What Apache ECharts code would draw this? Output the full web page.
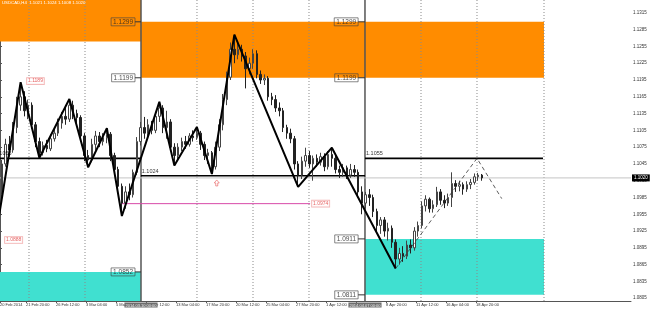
<!DOCTYPE html>
<html><head><meta charset="utf-8">
<script src="https://cdn.jsdelivr.net/npm/echarts@6/dist/echarts.min.js"></script>
<style>html,body{margin:0;padding:0;background:#fff}#c{width:650px;height:310px}</style>
</head><body><div id="c"></div>
<script>
// ---------- DATA ----------
const titleText = 'USDCAD,H4  1.1021 1.1024 1.1008 1.1020';
// one candle per slot (slot = 2 H4 bars)
const candleOpen = [1.0990,1.1045,1.1080,1.1070,1.1110,1.1150,1.1165,1.1140,1.1150,1.1115,1.1085,1.1065,1.1078,1.1072,1.1090,1.1100,1.1118,1.1130,1.1125,1.1150,1.1135,1.1128,1.1095,1.1060,1.1052,1.1080,1.1095,1.1085,1.1092,1.1098,1.1060,1.1035,1.1005,1.0975,1.0995,1.0990,1.1030,1.1085,1.1110,1.1100,1.1115,1.1105,1.1130,1.1145,1.1110,1.1120,1.1075,1.1060,1.1075,1.1085,1.1080,1.1095,1.1092,1.1100,1.1080,1.1060,1.1065,1.1040,1.1075,1.1115,1.1160,1.1200,1.1250,1.1240,1.1250,1.1238,1.1215,1.1225,1.1242,1.1205,1.1195,1.1198,1.1165,1.1160,1.1145,1.1140,1.1110,1.1100,1.1090,1.1045,1.1025,1.1050,1.1060,1.1045,1.1055,1.1048,1.1058,1.1040,1.1062,1.1055,1.1035,1.1030,1.1038,1.1025,1.1035,1.1030,1.0995,1.0975,1.0990,1.0985,1.0960,1.0935,1.0945,1.0925,1.0930,1.0905,1.0875,1.0885,1.0880,1.0900,1.0895,1.0925,1.0935,1.0970,1.0982,1.0965,1.0972,1.0995,1.0980,1.0975,1.0985,1.1010,1.1005,1.1008,1.1000,1.1008,1.1012,1.1022,1.1025];
const candleClose = [1.1045,1.1080,1.1070,1.1110,1.1150,1.1165,1.1140,1.1150,1.1115,1.1085,1.1065,1.1078,1.1072,1.1090,1.1100,1.1118,1.1130,1.1125,1.1150,1.1135,1.1128,1.1095,1.1060,1.1052,1.1080,1.1095,1.1085,1.1092,1.1098,1.1060,1.1035,1.1005,1.0975,1.0995,1.0990,1.1030,1.1085,1.1110,1.1100,1.1115,1.1105,1.1130,1.1145,1.1110,1.1120,1.1075,1.1060,1.1075,1.1085,1.1080,1.1095,1.1092,1.1100,1.1080,1.1060,1.1065,1.1040,1.1075,1.1115,1.1160,1.1200,1.1250,1.1240,1.1250,1.1238,1.1215,1.1225,1.1242,1.1205,1.1195,1.1198,1.1165,1.1160,1.1145,1.1140,1.1110,1.1100,1.1090,1.1045,1.1025,1.1050,1.1060,1.1045,1.1055,1.1048,1.1058,1.1040,1.1062,1.1055,1.1035,1.1030,1.1038,1.1025,1.1035,1.1030,1.0995,1.0975,1.0990,1.0985,1.0960,1.0935,1.0945,1.0925,1.0930,1.0905,1.0875,1.0885,1.0880,1.0900,1.0895,1.0925,1.0935,1.0970,1.0982,1.0965,1.0972,1.0995,1.0980,1.0975,1.0985,1.1010,1.1005,1.1008,1.1000,1.1008,1.1012,1.1022,1.1025,1.1020];
const candleLow = [1.0980,1.1040,1.1058,1.1065,1.1100,1.1140,1.1130,1.1125,1.1108,1.1075,1.1056,1.1060,1.1066,1.1068,1.1085,1.1095,1.1108,1.1115,1.1120,1.1125,1.1115,1.1088,1.1050,1.1039,1.1048,1.1070,1.1075,1.1078,1.1082,1.1050,1.1025,1.0995,1.0952,1.0965,1.0980,1.0985,1.1025,1.1078,1.1090,1.1095,1.1098,1.1100,1.1120,1.1100,1.1090,1.1068,1.1042,1.1052,1.1068,1.1072,1.1076,1.1085,1.1088,1.1070,1.1052,1.1045,1.1027,1.1035,1.1068,1.1105,1.1150,1.1195,1.1225,1.1232,1.1228,1.1180,1.1205,1.1215,1.1198,1.1188,1.1186,1.1158,1.1150,1.1138,1.1130,1.1102,1.1090,1.1082,1.1035,1.1004,1.1018,1.1040,1.1038,1.1015,1.1040,1.1042,1.1032,1.1035,1.1040,1.1028,1.1020,1.1022,1.1018,1.1020,1.1022,1.0985,1.0955,1.0965,1.0970,1.0950,1.0925,1.0920,1.0915,1.0908,1.0895,1.0858,1.0865,1.0870,1.0875,1.0885,1.0890,1.0915,1.0930,1.0960,1.0958,1.0958,1.0968,1.0972,1.0966,1.0970,1.0968,1.0995,1.0996,1.0990,1.0995,1.1000,1.1008,1.1015,1.1015];
const candleHigh = [1.1052,1.1090,1.1095,1.1120,1.1165,1.1191,1.1175,1.1160,1.1155,1.1120,1.1092,1.1085,1.1088,1.1098,1.1110,1.1126,1.1138,1.1145,1.1161,1.1158,1.1142,1.1132,1.1100,1.1070,1.1090,1.1104,1.1102,1.1100,1.1109,1.1102,1.1065,1.1040,1.1010,1.1005,1.1010,1.1035,1.1093,1.1120,1.1129,1.1125,1.1122,1.1138,1.1156,1.1150,1.1140,1.1125,1.1082,1.1082,1.1092,1.1095,1.1100,1.1105,1.1111,1.1104,1.1085,1.1072,1.1068,1.1085,1.1125,1.1170,1.1210,1.1262,1.1276,1.1262,1.1258,1.1245,1.1235,1.1250,1.1248,1.1212,1.1205,1.1202,1.1172,1.1168,1.1155,1.1145,1.1115,1.1108,1.1095,1.1050,1.1058,1.1074,1.1068,1.1060,1.1062,1.1065,1.1064,1.1068,1.1074,1.1060,1.1042,1.1045,1.1042,1.1045,1.1043,1.1035,1.1005,1.0995,1.1000,1.0990,1.0965,1.0950,1.0950,1.0940,1.0935,1.0910,1.0895,1.0898,1.0908,1.0910,1.0932,1.0942,1.0978,1.0989,1.0985,1.0980,1.1004,1.1000,1.0989,1.0992,1.1030,1.1016,1.1015,1.1012,1.1014,1.1018,1.1028,1.1029,1.1027];
// zigzag swing points (x in slots)
const zigzagX = [-1.8,5.5,10.5,18.5,23.5,28.5,32.5,42.5,46.5,52.5,56.5,62.5,79.5,88.5,105.5];
const zigzagY = [1.0888,1.1191,1.1056,1.1161,1.1039,1.1109,1.0952,1.1156,1.1042,1.1111,1.1027,1.1276,1.1004,1.1074,1.0858];
// dashed projection
const projX = [105.5,127.2,133.8];
const projY = [1.0858,1.1055,1.0983];
// axis labels
const xLabelPos = [0,6.93,14.93,22.93,30.93,38.93,46.93,54.93,62.93,70.93,78.93,86.93,94.93,102.93,110.93,118.93,126.93];
const xLabelText = ['20 Feb 2014','21 Feb 20:00','26 Feb 12:00','3 Mar 04:00','5 Mar 20:00','10 Mar 12:00','13 Mar 04:00','17 Mar 20:00','20 Mar 12:00','25 Mar 04:00','27 Mar 20:00','1 Apr 12:00','4 Apr 04:00','8 Apr 20:00','11 Apr 12:00','16 Apr 04:00','18 Apr 20:00'];
const yTicks = [1.0805,1.0835,1.0865,1.0895,1.0925,1.0955,1.0985,1.1015,1.1045,1.1075,1.1105,1.1135,1.1165,1.1195,1.1225,1.1255,1.1285,1.1315];
// vertical lines
const vGrid = [7.73,22.67,52.53,67.47,82.4,112.27,127.2,145.07];
const vSolid = [37.6,97.33];
const vSolidText = ['2014.03.10 00:00','2014.04.07 00:00'];
// zones
const orangeX0 = [0,37.6], orangeX1 = [37.6,145.07], orangeLo = [1.1264,1.1199], orangeHi = [1.1338,1.1299];
const tealX0 = [0,97.33], tealX1 = [37.6,145.07], tealLo = [1.0800,1.0811], tealHi = [1.0852,1.0911];
// horizontal levels
const levelX0 = [0,37.6,97.33], levelX1 = [37.6,97.33,144.8], levelY = [1.1055,1.1024,1.1055];
const levelTextX = [-1.4,37.8,97.6], levelText = ['1.1055','1.1024','1.1055'];
const pinkX = [32.5,82.7], pinkY = 1.0974;
const bidPrice = 1.1020;
// boxed price labels
const boxX = [36,36,36,95.5,95.5,95.5,95.5];
const boxEnd = [37.6,37.6,37.6,97.33,97.33,97.33,97.33];
const boxY = [1.1299,1.1199,1.0852,1.1299,1.1199,1.0911,1.0811];
// red indicator labels
const redX = [1.33,7.2,83.2], redY = [1.0909,1.1193,1.0974], redText = ['1.0888','1.1189','1.0974'];
const arrowX = 57.8, arrowY = 1.1011;

// ---------- CHART ----------
const X_MAX = 168.27, Y_MIN = 1.0800, Y_MAX = 1.1338;
const FONT = '"Liberation Sans", Arial, sans-serif';
const chart = echarts.init(document.getElementById('c'));
const series = [];

// zones
const areas = [];
orangeX0.forEach((x,i)=>areas.push([{xAxis:x,yAxis:orangeLo[i],itemStyle:{color:'#FF8C00',opacity:1}},{xAxis:orangeX1[i],yAxis:orangeHi[i]}]));
tealX0.forEach((x,i)=>areas.push([{xAxis:x,yAxis:tealLo[i],itemStyle:{color:'#40E0D0',opacity:1}},{xAxis:tealX1[i],yAxis:tealHi[i]}]));
series.push({type:'line',z:0,data:[[0,1.1]],symbol:'none',lineStyle:{opacity:0},silent:true,
  markArea:{silent:true,z:1,data:areas}});

// vertical dotted grid
vGrid.forEach(v=>series.push({type:'line',z:2,symbol:'none',silent:true,data:[[v,Y_MIN],[v,Y_MAX]],
  lineStyle:{color:'#8a8a8a',width:1,type:[1,2]}}));
// solid separators
vSolid.forEach(v=>series.push({type:'line',z:2,symbol:'none',silent:true,data:[[v,Y_MIN],[v,Y_MAX]],
  lineStyle:{color:'#555',width:1.5}}));

// bid line
series.push({type:'line',z:2,symbol:'none',silent:true,data:[[0,bidPrice],[X_MAX,bidPrice]],
  lineStyle:{color:'#c4c4c4',width:1},
  endLabel:{show:true,formatter:bidPrice.toFixed(4),backgroundColor:'#000',color:'#fff',fontSize:4.5,fontFamily:FONT,padding:[1,2],distance:1}});

// levels
levelY.forEach((y,i)=>series.push({type:'line',z:3,symbol:'none',silent:true,data:[[levelX0[i],y],[levelX1[i],y]],
  lineStyle:{color:'#000',width:1.6}}));
series.push({type:'line',z:3,symbol:'none',silent:true,data:[[pinkX[0],pinkY],[pinkX[1],pinkY]],
  lineStyle:{color:'#d84aa8',width:1}});
// box ticks
boxX.forEach((x,i)=>series.push({type:'line',z:3,symbol:'none',silent:true,data:[[x,boxY[i]],[boxEnd[i],boxY[i]]],
  lineStyle:{color:'#333',width:1}}));

// candles
series.push({type:'candlestick',z:4,silent:true,barWidth:2,
  data:candleOpen.map((o,i)=>[i+0.5,o,candleClose[i],candleLow[i],candleHigh[i]]),
  encode:{x:0,y:[1,2,3,4]},
  itemStyle:{color:'#ffffff',color0:'#222',borderColor:'#444',borderColor0:'#222',borderWidth:1}});

// zigzag
series.push({type:'line',z:5,symbol:'none',silent:true,clip:true,
  data:zigzagX.map((x,i)=>[x,zigzagY[i]]),lineStyle:{color:'#000',width:2}});
// projection
series.push({type:'line',z:5,symbol:'none',silent:true,
  data:projX.map((x,i)=>[x,projY[i]]),lineStyle:{color:'#333',width:0.8,type:[4,3]}});

// level texts
series.push({type:'scatter',z:6,clip:false,symbolSize:0,silent:true,
  data:levelTextX.map((x,i)=>[x,levelY[i]]),
  label:{show:true,position:'right',distance:0,offset:[0,-4.5],formatter:p=>levelText[p.dataIndex],
    fontSize:5.5,color:'#000',fontFamily:FONT}});
// boxed labels
series.push({type:'scatter',z:6,symbolSize:0,silent:true,
  data:boxX.map((x,i)=>[x,boxY[i]]),
  label:{show:true,position:'left',distance:0,formatter:p=>boxY[p.dataIndex].toFixed(4),
    fontSize:6.5,color:'#222',fontFamily:FONT,borderColor:'#444',borderWidth:0.8,padding:[1,2,0,2]}});
// red labels
series.push({type:'scatter',z:6,symbolSize:0,silent:true,
  data:redX.map((x,i)=>[x,redY[i]]),
  label:{show:true,position:'right',distance:0,formatter:p=>redText[p.dataIndex],
    fontSize:5,color:'#e03a3a',fontFamily:FONT,backgroundColor:'#fff',borderColor:'#f0a0a0',borderWidth:0.8,padding:[1,1,0,1]}});
// arrow
series.push({type:'scatter',z:6,silent:true,symbol:'path://M5 0L10 5L7 5L7 10L3 10L3 5L0 5Z',symbolSize:[5,6],
  data:[[arrowX,arrowY]],itemStyle:{color:'#fff',borderColor:'#e86060',borderWidth:0.8}});

const nearest = (arr,v)=>{let b=0;arr.forEach((a,i)=>{if(Math.abs(a-v)<Math.abs(arr[b]-v))b=i;});return b;};

chart.setOption({
  animation:false,
  backgroundColor:'#fff',
  title:{text:titleText,left:2,top:1,padding:0,textStyle:{fontSize:4.3,color:'#fff',fontWeight:'normal',fontFamily:FONT}},
  grid:{left:0,right:19,top:0,bottom:9,containLabel:false,outerBoundsMode:'none'},
  xAxis:[
    {type:'value',min:0,max:X_MAX,position:'bottom',
      axisLine:{show:true,lineStyle:{color:'#555',width:1}},
      splitLine:{show:false},
      axisTick:{show:true,customValues:xLabelPos,length:2,lineStyle:{color:'#555'}},
      axisLabel:{show:true,customValues:xLabelPos,align:'left',margin:2,fontSize:4,color:'#333',fontFamily:FONT,
        formatter:v=>xLabelText[nearest(xLabelPos,v)]}},
    {type:'value',min:0,max:X_MAX,position:'bottom',
      axisLine:{show:false},axisTick:{show:false},splitLine:{show:false},
      axisLabel:{show:true,customValues:vSolid,align:'center',margin:1.5,fontSize:4,color:'#f2f2f2',fontFamily:FONT,
        backgroundColor:'#6e6e6e',padding:[1,1,0,1],
        formatter:v=>vSolidText[nearest(vSolid,v)]}}
  ],
  yAxis:{type:'value',position:'right',min:Y_MIN,max:Y_MAX,
    axisLine:{show:true,lineStyle:{color:'#555',width:1}},
    splitLine:{show:false},
    axisTick:{show:true,customValues:yTicks,length:2,lineStyle:{color:'#555'}},
    axisLabel:{show:true,customValues:yTicks,margin:2,fontSize:4.5,color:'#333',fontFamily:FONT,
      formatter:v=>v.toFixed(4)}},
  series:series
});
</script>
</body></html>
